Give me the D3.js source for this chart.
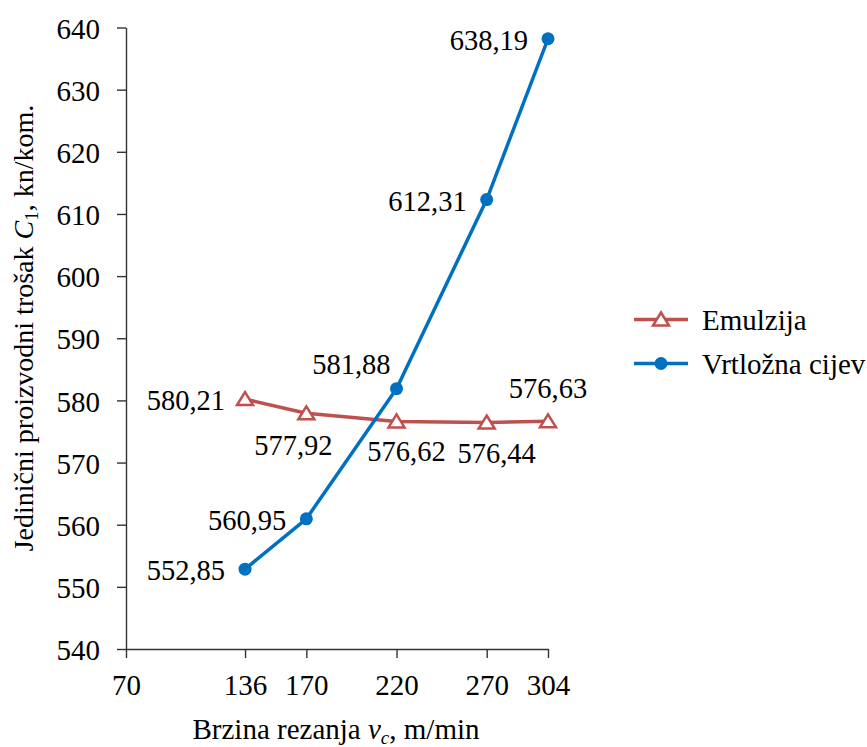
<!DOCTYPE html>
<html>
<head>
<meta charset="utf-8">
<script src="https://cdn.jsdelivr.net/npm/d3@7"></script>
<style>
  body { margin: 0; background: #fff; }
</style>
</head>
<body>
<div id="my_dataviz"></div>
<script>
// Data
const speeds = [136, 170, 220, 270, 304];
const emulzija = [580.21, 577.92, 576.62, 576.44, 576.63];
const vrtlozna = [552.85, 560.95, 581.88, 612.31, 638.19];
const seriesNames = ["Emulzija", "Vrtložna cijev"];
const xTicks = [70, 136, 170, 220, 270, 304];
const yTicks = [540, 550, 560, 570, 580, 590, 600, 610, 620, 630, 640];

// Where each value label sits relative to its point
const emLabelPos = ["left", "belowLeft", "below", "below", "above"];
const vrLabelPos = ["left", "left", "aboveLeft", "left", "left"];

const W = 867, H = 747;
const serif = "Liberation Serif";

const svg = d3.select("#my_dataviz")
  .append("svg")
    .attr("width", W)
    .attr("height", H)
    .style("font-family", serif);

// Scales
const x = d3.scaleLinear().domain([70, 304]).range([126, 548]);
const y = d3.scaleLinear().domain([540, 640]).range([649, 27.5]);

// Y axis
const yAxis = svg.append("g")
    .attr("transform", "translate(126,0)")
    .call(d3.axisLeft(y).tickValues(yTicks).tickSize(9).tickSizeOuter(0).tickPadding(17));

// X axis
const xAxis = svg.append("g")
    .attr("transform", "translate(0,649)")
    .call(d3.axisBottom(x).tickValues(xTicks).tickSize(9).tickSizeOuter(0).tickPadding(16));

[xAxis, yAxis].forEach(a => {
  a.style("font-family", serif).style("font-size", "29px");
  a.select(".domain").attr("stroke", "#333").attr("stroke-width", 1.4);
  a.selectAll(".tick line").attr("stroke", "#333").attr("stroke-width", 1.4);
  a.selectAll(".tick text").attr("fill", "#000");
});
yAxis.selectAll(".tick text").attr("dy", "0.37em");
xAxis.selectAll(".tick text").attr("dy", "0.72em");

// X axis title
const xt = svg.append("text")
    .attr("x", 336)
    .attr("y", 739)
    .attr("text-anchor", "middle")
    .style("font-size", "29px");
xt.append("tspan").text("Brzina rezanja ");
xt.append("tspan").style("font-style", "italic").text("v");
xt.append("tspan").style("font-style", "italic").attr("dy", 5).style("font-size", "19px").text("c");
xt.append("tspan").attr("dy", -5).text(", m/min");

// Y axis title
const yt = svg.append("text")
    .attr("transform", "translate(33,328) rotate(-90)")
    .attr("text-anchor", "middle")
    .style("font-size", "28px");
yt.append("tspan").text("Jedinični proizvodni trošak ");
yt.append("tspan").style("font-style", "italic").text("C");
yt.append("tspan").attr("dy", 5).style("font-size", "19px").text("1");
yt.append("tspan").attr("dy", -5).text(", kn/kom.");

// Number format with decimal comma
const fmt = d3.formatLocale({ decimal: ",", thousands: ".", grouping: [3], currency: ["", ""] }).format(".2f");

const colors = ["#C0504D", "#0070C0"];
const trianglePath = "M0,-7L8,6L-8,6Z";

const labelOffset = {
  left:      { dx: -20, dy: 11, anchor: "end" },
  below:     { dx: 10, dy: 40, anchor: "middle" },
  belowLeft: { dx: -13, dy: 42, anchor: "middle" },
  above:     { dx: 0, dy: -23, anchor: "middle" },
  aboveLeft: { dx: -6, dy: -15, anchor: "end" }
};

const line = d3.line()
    .x(d => x(d.v))
    .y(d => y(d.c));

const series = [
  { name: seriesNames[0], values: speeds.map((v, i) => ({ v: v, c: emulzija[i], pos: emLabelPos[i] })), color: colors[0], marker: "triangle" },
  { name: seriesNames[1], values: speeds.map((v, i) => ({ v: v, c: vrtlozna[i], pos: vrLabelPos[i] })), color: colors[1], marker: "circle" }
];

series.forEach(s => {
  svg.append("path")
      .datum(s.values)
      .attr("fill", "none")
      .attr("stroke", s.color)
      .attr("stroke-width", 3.5)
      .attr("stroke-linejoin", "round")
      .attr("d", line);

  if (s.marker === "triangle") {
    svg.append("g").selectAll("path")
      .data(s.values)
      .enter().append("path")
        .attr("d", trianglePath)
        .attr("transform", d => `translate(${x(d.v)},${y(d.c)})`)
        .attr("fill", "#fff")
        .attr("stroke", s.color)
        .attr("stroke-width", 2.5);
  } else {
    svg.append("g").selectAll("circle")
      .data(s.values)
      .enter().append("circle")
        .attr("cx", d => x(d.v))
        .attr("cy", d => y(d.c))
        .attr("r", 6.5)
        .attr("fill", s.color);
  }

  // value labels
  svg.append("g").selectAll("text")
    .data(s.values)
    .enter().append("text")
      .attr("x", d => x(d.v) + labelOffset[d.pos].dx)
      .attr("y", d => y(d.c) + labelOffset[d.pos].dy)
      .attr("text-anchor", d => labelOffset[d.pos].anchor)
      .style("font-size", "28.5px")
      .text(d => fmt(d.c));
});

// Legend
const legend = svg.selectAll(".legend")
    .data(series)
    .enter().append("g")
      .attr("class", "legend")
      .attr("transform", (d, i) => `translate(634,${319.5 + i * 44})`);

legend.append("line")
    .attr("x1", 0).attr("x2", 54)
    .attr("stroke", d => d.color)
    .attr("stroke-width", 3.5);

legend.each(function(d) {
  const g = d3.select(this);
  if (d.marker === "triangle") {
    g.append("path")
      .attr("d", trianglePath)
      .attr("transform", "translate(27,0)")
      .attr("fill", "#fff")
      .attr("stroke", d.color)
      .attr("stroke-width", 2.5);
  } else {
    g.append("circle")
      .attr("cx", 27).attr("r", 6.5)
      .attr("fill", d.color);
  }
});

legend.append("text")
    .attr("x", 68)
    .attr("y", 10.5)
    .style("font-size", "29px")
    .text(d => d.name);
</script>
</body>
</html>
